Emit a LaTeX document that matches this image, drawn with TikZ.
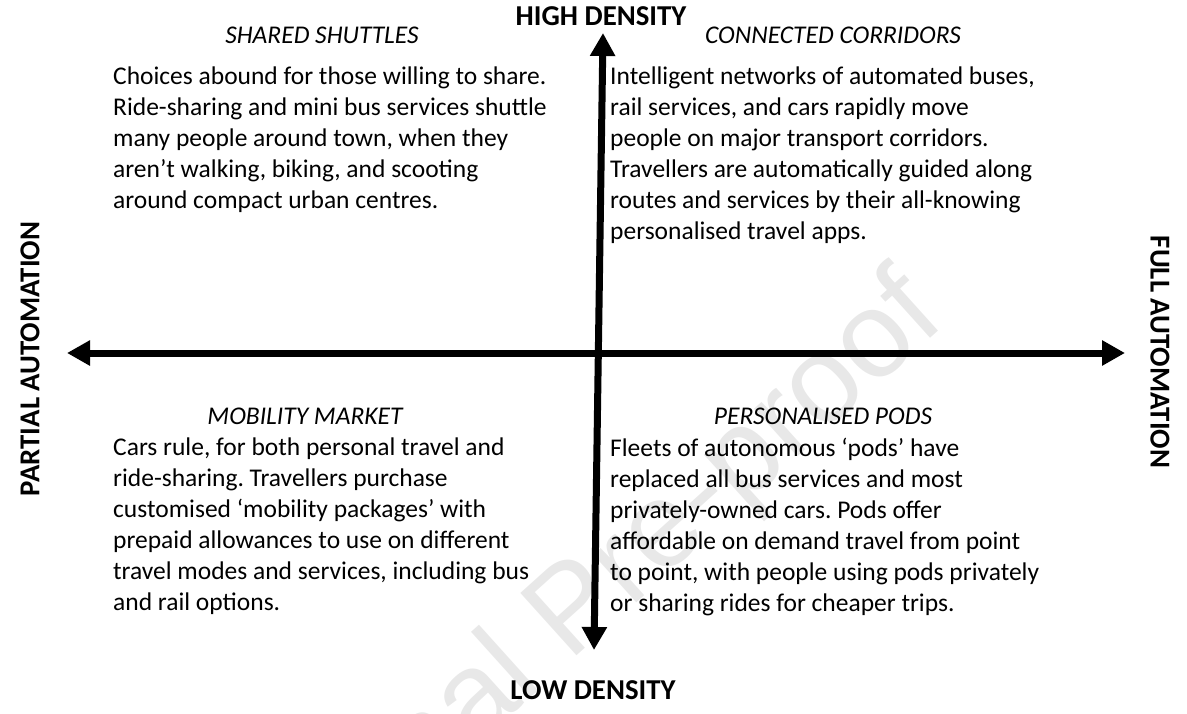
\documentclass[tikz,border=0pt]{standalone}
\usepackage{fontspec}
\setmainfont{Carlito}
\newfontfamily\markfont{Liberation Sans}
\usetikzlibrary{arrows.meta}
\frenchspacing

\tikzset{
  axis/.style={line width=7pt, {Triangle[length=23pt,width=24pt]}-{Triangle[length=23pt,width=24pt]}},
  body/.style={anchor=north west, inner sep=0pt, align=left,
    font=\fontsize{25.5}{31}\selectfont},
  title/.style={inner sep=0pt, font=\fontsize{25.5}{31}\selectfont\itshape},
  pole/.style={inner sep=0pt, font=\fontsize{28.8}{34}\selectfont\bfseries},
  watermark/.style={inner sep=0pt, text=black!9, font=\fontsize{122}{122}\selectfont\markfont}
}

\begin{document}
\begin{tikzpicture}[x=1pt, y=-1pt]
  \useasboundingbox (0,0) rectangle (1187,713);

  % faint background stamp
  \node[watermark, rotate=42, anchor=base east] (stamp) at (948,322) {Journal Pre-proof};

  % axis end points
  \coordinate (west) at (67,353);
  \coordinate (east) at (1125,353);
  \coordinate (north) at (603,33);
  \coordinate (south) at (594,650);

  \draw[axis] (west) -- (east);
  \draw[axis] (south) -- (north);

  % pole labels
  \node[pole] (high) at (601,16) {HIGH DENSITY};
  \node[pole] (low) at (593,690) {LOW DENSITY};
  \node[pole, rotate=90] (partial) at (30,359) {PARTIAL AUTOMATION};
  \node[pole, rotate=-90] (full) at (1160,352) {FULL AUTOMATION};

  % quadrant headings
  \node[title] (t1) at (322,35) {SHARED SHUTTLES};
  \node[title] (t2) at (833,35) {CONNECTED CORRIDORS};
  \node[title] (t3) at (305,416) {MOBILITY MARKET};
  \node[title] (t4) at (823,416) {PERSONALISED PODS};

  % quadrant descriptions
  \node[body] (b1) at (113,67) {Choices abound for those willing to share.\\
    Ride-sharing and mini bus services shuttle\\
    many people around town, when they\\
    aren’t walking, biking, and scooting\\
    around compact urban centres.};
  \node[body] (b2) at (610,67) {Intelligent networks of automated buses,\\
    rail services, and cars rapidly move\\
    people on major transport corridors.\\
    Travellers are automatically guided along\\
    routes and services by their all-knowing\\
    personalised travel apps.};
  \node[body] (b3) at (113,438) {Cars rule, for both personal travel and\\
    ride-sharing. Travellers purchase\\
    customised ‘mobility packages’ with\\
    prepaid allowances to use on different\\
    travel modes and services, including bus\\
    and rail options.};
  \node[body] (b4) at (610,438) {Fleets of autonomous ‘pods’ have\\
    replaced all bus services and most\\
    privately-owned cars. Pods offer\\
    affordable on demand travel from point\\
    to point, with people using pods privately\\
    or sharing rides for cheaper trips.};
\end{tikzpicture}
\end{document}
